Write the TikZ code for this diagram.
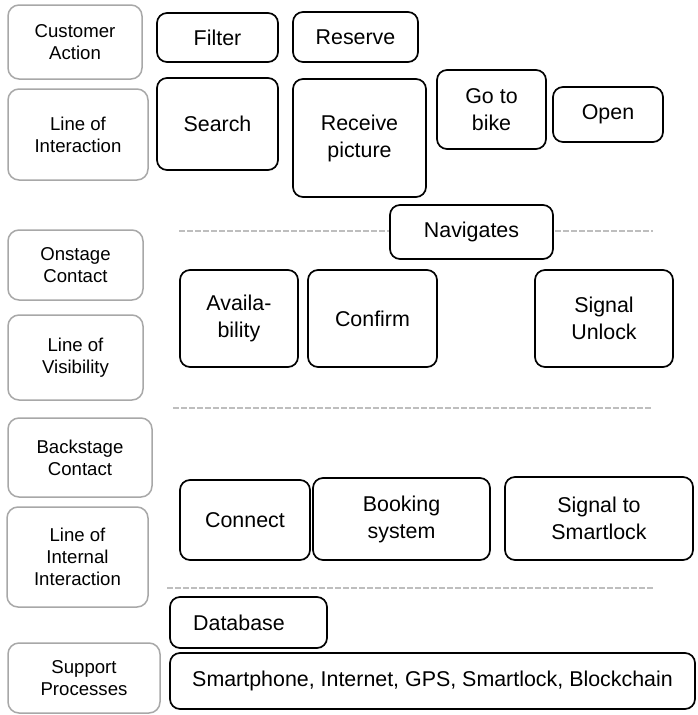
\documentclass[tikz,border=0pt]{standalone}
\usepackage{fontspec}
\setmainfont{Liberation Sans}
\definecolor{lanegray}{RGB}{168,168,168}
\definecolor{dashgray}{RGB}{190,190,190}
\begin{document}
\begin{tikzpicture}[x=1pt,y=-1pt,
  lane/.style={draw=lanegray,line width=1.5pt,rounded corners=11pt,inner sep=0pt,align=center,
    font=\fontsize{18.6}{21.7}\selectfont},
  act/.style={draw=black,line width=1.7pt,rounded corners=10pt,fill=white,inner sep=0pt,align=center,
    font=\fontsize{21.4}{27}\selectfont},
  divider/.style={dashgray,line width=1.6pt,dash pattern=on 5.5pt off 2.5pt}]
\useasboundingbox (0,0) rectangle (697,715);
% helper: box from (x1,y1) to (x2,y2)
\newcommand\mybox[7]{\node[#1,minimum width={(#5-#3)*1pt},minimum height={(#6-#4)*1pt}] (#2) at ({(#3+#5)/2},{(#4+#6)/2}) {#7};}
% dividers
\coordinate (d1a) at (179,231); \coordinate (d1b) at (653,231);
\coordinate (d2a) at (173,408); \coordinate (d2b) at (651,408);
\coordinate (d3a) at (167,588); \coordinate (d3b) at (653,588);
\draw[divider] (d1a) -- (d1b);
\draw[divider] (d2a) -- (d2b);
\draw[divider] (d3a) -- (d3b);
% lanes
\mybox{lane}{ca}{8}{5}{142}{79}{Customer\\Action}
\mybox{lane}{li}{8}{89}{148}{180}{Line of\\Interaction}
\mybox{lane}{oc}{8}{230}{143}{300}{Onstage\\Contact}
\mybox{lane}{lv}{8}{315}{143}{400}{Line of\\Visibility}
\mybox{lane}{bc}{8}{418}{152}{497}{Backstage\\Contact}
\mybox{lane}{lii}{7}{507}{148}{607}{Line of\\Internal\\Interaction}
\mybox{lane}{sp}{8}{643}{160}{713}{Support\\Processes}
% actions
\mybox{act}{filter}{157}{13}{278}{62}{Filter}
\mybox{act}{reserve}{293}{12}{418}{62}{Reserve}
\mybox{act}{search}{157}{78}{278}{170}{Search}
\mybox{act}{receive}{293}{79}{426}{197}{Receive\\picture}
\mybox{act}{gotobike}{437}{70}{546}{149}{Go to\\bike}
\mybox{act}{open}{553}{87}{663}{142}{Open}
\mybox{act}{navigates}{390}{205}{553}{259}{Navigates}
\mybox{act}{avail}{180}{270}{298}{367}{Availa-\\bility}
\mybox{act}{confirm}{308}{270}{437}{367}{Confirm}
\mybox{act}{sigunlock}{535}{270}{673}{367}{Signal\\Unlock}
\mybox{act}{connect}{180}{480}{310}{560}{Connect}
\mybox{act}{booking}{313}{478}{490}{560}{Booking\\system}
\mybox{act}{sigsmart}{505}{477}{693}{560}{Signal to\\Smartlock}
\mybox{act}{database}{170}{597}{327}{648}{Database\hspace*{19pt}}
\mybox{act}{support}{170}{653}{695}{709}{Smartphone, Internet, GPS, Smartlock, Blockchain}
\end{tikzpicture}
\end{document}
